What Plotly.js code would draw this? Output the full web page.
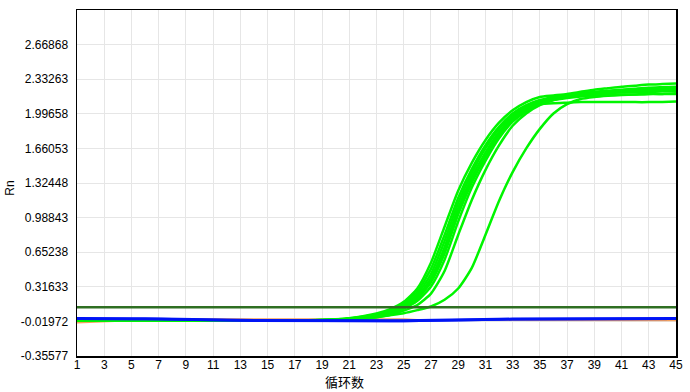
<!DOCTYPE html>
<html>
<head>
<meta charset="utf-8">
<script src="https://cdn.plot.ly/plotly-3.0.1.min.js"></script>
<style>
html,body{margin:0;padding:0;background:#fff;}
#chart{width:690px;height:392px;}
</style>
</head>
<body>
<div id="chart"></div>
<script>
const cycles = [1,2,3,4,5,6,7,8,9,10,11,12,13,14,15,16,17,18,19,20,21,22,23,24,25,26,27,28,29,30,31,32,33,34,35,36,37,38,39,40,41,42,43,44,45];

const xTickVals = [1,3,5,7,9,11,13,15,17,19,21,23,25,27,29,31,33,35,37,39,41,43,45];
const yTickVals = [-0.35577,-0.01972,0.31633,0.65238,0.98843,1.32448,1.66053,1.99658,2.33263,2.66868];
const yTickText = ["-0.35577","-0.01972","0.31633","0.65238","0.98843","1.32448","1.66053","1.99658","2.33263","2.66868"];
const yRange = [-0.35577, 3.00473];
const threshold = 0.117;

const green1 = [-0.012,-0.012,-0.012,-0.012,-0.012,-0.012,-0.012,-0.012,-0.012,-0.012,-0.012,-0.012,-0.012,-0.012,-0.012,-0.011,-0.010,-0.008,-0.005,0.000,0.012,0.030,0.057,0.100,0.170,0.300,0.550,0.900,1.250,1.520,1.740,1.910,2.030,2.110,2.160,2.175,2.190,2.210,2.230,2.245,2.260,2.270,2.280,2.285,2.290];
const green2 = [-0.012,-0.012,-0.012,-0.012,-0.012,-0.012,-0.012,-0.012,-0.012,-0.012,-0.012,-0.012,-0.012,-0.012,-0.012,-0.012,-0.011,-0.009,-0.006,-0.002,0.010,0.026,0.050,0.090,0.155,0.270,0.490,0.820,1.180,1.460,1.690,1.870,2.000,2.080,2.130,2.160,2.180,2.195,2.210,2.220,2.230,2.240,2.250,2.255,2.260];
const green3 = [-0.013,-0.013,-0.013,-0.013,-0.013,-0.013,-0.013,-0.013,-0.013,-0.013,-0.013,-0.013,-0.013,-0.013,-0.013,-0.012,-0.011,-0.010,-0.007,-0.004,0.007,0.023,0.045,0.082,0.140,0.245,0.440,0.760,1.130,1.420,1.660,1.850,1.980,2.065,2.120,2.155,2.175,2.190,2.200,2.210,2.215,2.220,2.225,2.230,2.235];
const green4 = [-0.012,-0.012,-0.012,-0.012,-0.012,-0.012,-0.012,-0.012,-0.012,-0.012,-0.012,-0.012,-0.012,-0.012,-0.012,-0.012,-0.012,-0.010,-0.008,-0.005,0.005,0.020,0.040,0.075,0.130,0.220,0.400,0.700,1.080,1.380,1.620,1.820,1.960,2.050,2.110,2.150,2.170,2.185,2.195,2.200,2.205,2.210,2.210,2.215,2.220];
const green5 = [-0.013,-0.013,-0.013,-0.013,-0.013,-0.013,-0.013,-0.013,-0.013,-0.013,-0.013,-0.013,-0.013,-0.013,-0.013,-0.013,-0.012,-0.011,-0.009,-0.006,0.003,0.017,0.036,0.068,0.120,0.200,0.360,0.640,1.020,1.330,1.580,1.790,1.940,2.030,2.090,2.130,2.150,2.165,2.175,2.180,2.185,2.185,2.190,2.190,2.190];
const green6 = [-0.012,-0.012,-0.012,-0.012,-0.012,-0.012,-0.012,-0.012,-0.012,-0.012,-0.012,-0.012,-0.012,-0.012,-0.012,-0.013,-0.013,-0.012,-0.010,-0.008,0.000,0.013,0.030,0.058,0.105,0.180,0.320,0.580,0.950,1.280,1.540,1.760,1.920,2.020,2.090,2.135,2.165,2.185,2.200,2.215,2.225,2.235,2.240,2.245,2.250];
const green7 = [-0.013,-0.013,-0.013,-0.013,-0.013,-0.013,-0.013,-0.013,-0.013,-0.013,-0.013,-0.013,-0.013,-0.013,-0.013,-0.013,-0.012,-0.011,-0.009,-0.006,0.004,0.018,0.038,0.070,0.125,0.210,0.380,0.670,1.040,1.340,1.580,1.800,1.970,2.060,2.090,2.100,2.105,2.110,2.110,2.110,2.110,2.110,2.110,2.112,2.115];
const green8 = [-0.012,-0.012,-0.012,-0.012,-0.012,-0.012,-0.012,-0.012,-0.012,-0.012,-0.012,-0.012,-0.012,-0.012,-0.012,-0.013,-0.013,-0.013,-0.012,-0.010,-0.004,0.006,0.020,0.045,0.085,0.140,0.250,0.470,0.820,1.160,1.450,1.690,1.880,2.000,2.080,2.130,2.160,2.180,2.190,2.200,2.205,2.210,2.215,2.220,2.220];
const green9 = [-0.013,-0.013,-0.013,-0.013,-0.013,-0.013,-0.013,-0.013,-0.013,-0.013,-0.013,-0.013,-0.013,-0.013,-0.013,-0.013,-0.012,-0.010,-0.007,-0.002,0.004,0.010,0.020,0.040,0.060,0.090,0.125,0.190,0.300,0.500,0.820,1.150,1.430,1.660,1.850,2.000,2.090,2.140,2.160,2.172,2.180,2.185,2.190,2.190,2.195];

const blue1 = [0.008,0.009,0.009,0.008,0.007,0.006,0.005,0.004,0.003,0.002,0.000,-0.004,-0.008,-0.010,-0.011,-0.012,-0.012,-0.013,-0.013,-0.014,-0.014,-0.014,-0.014,-0.014,-0.013,-0.012,-0.011,-0.009,-0.007,-0.004,-0.001,0.001,0.003,0.004,0.005,0.006,0.007,0.007,0.008,0.008,0.008,0.009,0.009,0.009,0.009];
const blue2 = [0.005,0.006,0.006,0.006,0.005,0.004,0.003,0.002,0.001,0.000,-0.002,-0.006,-0.010,-0.012,-0.013,-0.014,-0.014,-0.015,-0.015,-0.016,-0.016,-0.016,-0.016,-0.016,-0.015,-0.014,-0.013,-0.011,-0.009,-0.006,-0.003,-0.001,0.001,0.002,0.003,0.004,0.005,0.005,0.006,0.006,0.006,0.007,0.007,0.007,0.007];
const orange1 = [-0.030,-0.025,-0.015,-0.008,-0.004,-0.002,0.000,0.000,0.000,0.000,0.000,0.002,0.003,0.003,0.003,0.003,0.003,0.003,0.003,0.003,0.000,0.000,0.000,0.000,0.000,-0.005,-0.005,-0.005,-0.005,-0.005,-0.008,-0.008,-0.008,-0.008,-0.008,-0.008,-0.008,-0.008,-0.008,-0.008,-0.008,-0.008,-0.008,-0.008,-0.008];

const greens = [green1,green2,green3,green4,green5,green6,green7,green8,green9];

const traces = [];
traces.push({x: cycles, y: orange1, mode: 'lines', line: {color: '#f4a15c', width: 2}, hoverinfo: 'skip'});
greens.forEach(g => traces.push({x: cycles, y: g, mode: 'lines', line: {color: '#00f500', width: 2.5, shape: 'spline', smoothing: 0.6}, hoverinfo: 'skip'}));
traces.push({x: cycles, y: blue2, mode: 'lines', line: {color: '#1a2cff', width: 2.5}, hoverinfo: 'skip'});
traces.push({x: cycles, y: blue1, mode: 'lines', line: {color: '#0014f5', width: 3}, hoverinfo: 'skip'});
traces.push({x: [cycles[0], cycles[cycles.length-1]], y: [threshold, threshold], mode: 'lines', line: {color: '#2f6f22', width: 2.5}, hoverinfo: 'skip'});

const tickFont = {family: 'Liberation Sans, Arial, sans-serif', size: 12, color: '#000'};

const layout = {
  width: 690, height: 392,
  margin: {l: 77, r: 14, t: 10, b: 36},
  paper_bgcolor: '#fff', plot_bgcolor: '#fff',
  showlegend: false,
  xaxis: {
    range: [1, 45], tickvals: xTickVals, ticktext: xTickVals.map(String),
    showgrid: true, gridcolor: '#e6e6e6', gridwidth: 1,
    showline: true, linecolor: '#000', linewidth: 1.5, mirror: true,
    zeroline: false, ticks: '', tickfont: tickFont, ticklabelstandoff: -3
  },
  yaxis: {
    range: yRange, tickvals: yTickVals, ticktext: yTickText,
    showgrid: true, gridcolor: '#e6e6e6', gridwidth: 1,
    showline: true, linecolor: '#000', linewidth: 1.5, mirror: true,
    zeroline: false, ticks: '', tickfont: tickFont, ticklabelstandoff: 5
  },
  annotations: [
    {text: 'Rn', xref: 'paper', yref: 'paper', x: -0.112, y: 0.486, xanchor: 'center', yanchor: 'middle',
     textangle: -90, showarrow: false, font: {family: 'Liberation Sans, Arial, sans-serif', size: 12, color: '#000'}},
    {text: '循环数', xref: 'paper', yref: 'paper', x: (344-77)/599, y: -0.104, xanchor: 'center', yanchor: 'bottom',
     showarrow: false, borderpad: 0, font: {family: 'Noto Sans CJK SC, sans-serif', size: 13, color: '#000'}}
  ]
};

Plotly.newPlot('chart', traces, layout, {staticPlot: true, displayModeBar: false});
</script>
</body>
</html>
